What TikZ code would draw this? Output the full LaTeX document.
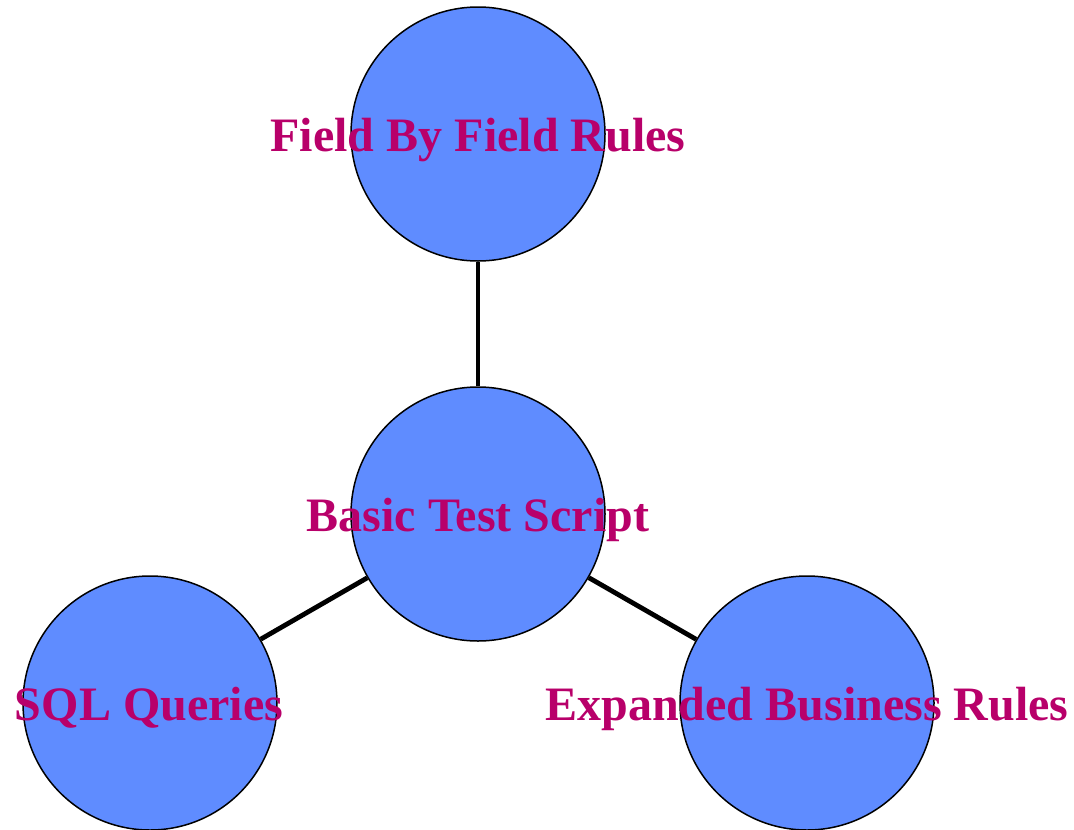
\documentclass[tikz,border=0pt]{standalone}
\usepackage{fontspec}
\setmainfont{Liberation Serif}
\definecolor{bubble}{HTML}{5F8CFF}
\definecolor{caption}{HTML}{B8006A}
\begin{document}
\begin{tikzpicture}[x=1pt,y=-1pt,
  bubble/.style={circle,draw=black,line width=1.5pt,fill=bubble,minimum size=254pt,inner sep=0pt},
  link/.style={line width=4.8pt,black},
  caption/.style={text=caption,font=\bfseries\fontsize{48}{48}\selectfont,anchor=base,inner sep=0pt}]
\useasboundingbox (0,0) rectangle (1074,830);
\node[bubble] (top) at (478,134) {};
\node[bubble] (mid) at (478,514) {};
\node[bubble] (left) at (150,703) {};
\node[bubble] (right) at (807,703) {};
\draw[link] (mid) -- (top);
\draw[link] (mid) -- (left);
\draw[link] (mid) -- (right);
\node[caption] (ttop) at (478,151) {Field By Field Rules};
\node[caption] (tmid) at (478,531) {Basic Test Script};
\node[caption] (tleft) at (149,720) {SQL Queries};
\node[caption] (tright) at (807,720) {Expanded Business Rules};
\end{tikzpicture}
\end{document}
